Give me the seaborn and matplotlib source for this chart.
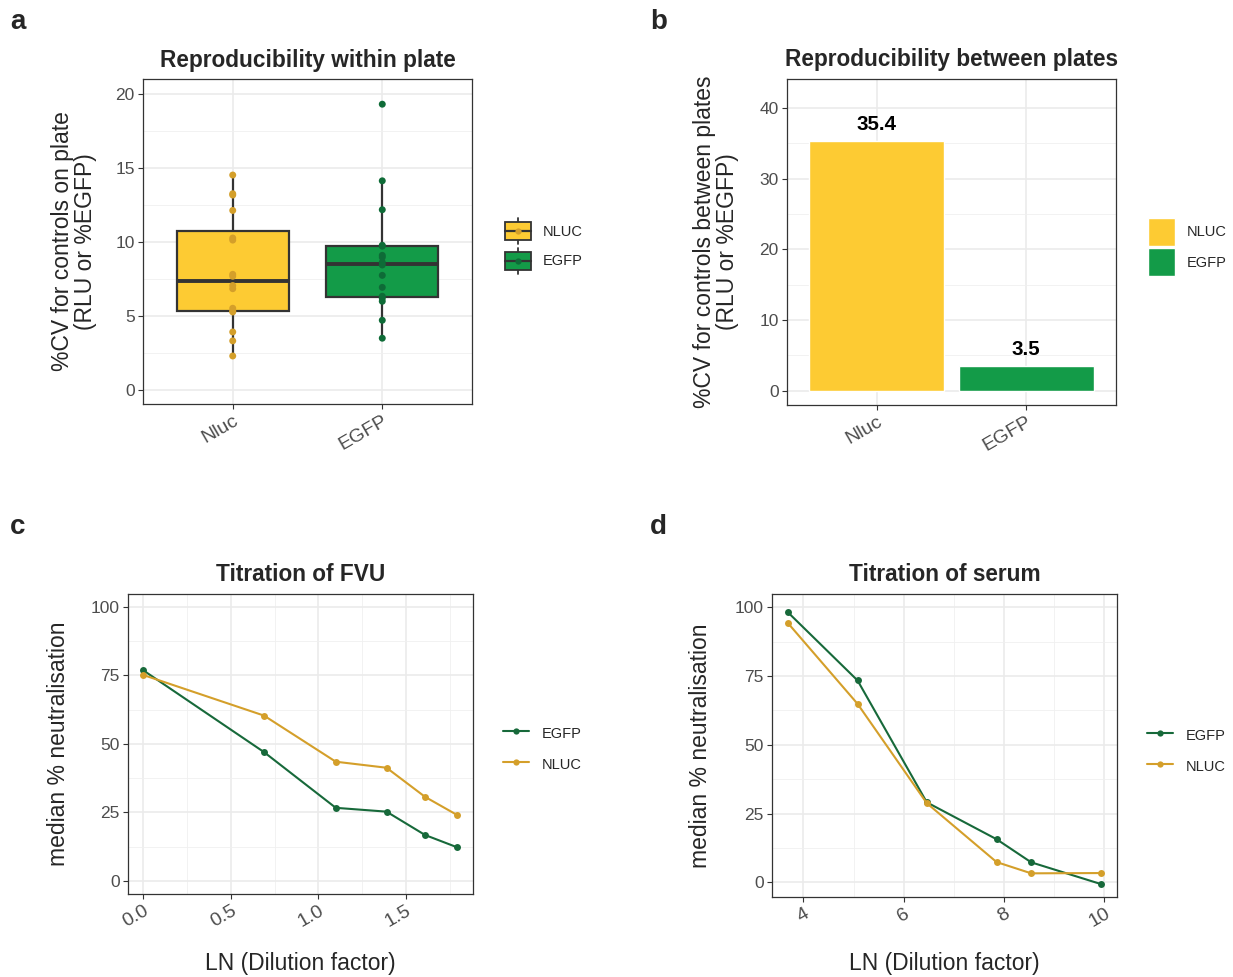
import numpy as np
import pandas as pd
import matplotlib
matplotlib.use("Agg")
import matplotlib.pyplot as plt
from matplotlib.patches import Patch, Rectangle
from matplotlib.lines import Line2D
from matplotlib.legend_handler import HandlerBase
from matplotlib.ticker import MultipleLocator
import seaborn as sns

# ---- data ----
constructs = ["Nluc", "EGFP"]
nluc_cv_within = [14.52, 13.26, 13.17, 12.13, 10.27, 10.13, 7.82, 7.69, 7.06, 6.85,
                  5.53, 5.35, 5.28, 3.93, 3.33, 2.31]
egfp_cv_within = [19.30, 14.13, 12.18, 9.78, 9.72, 9.10, 8.97, 8.63, 8.45, 7.75,
                  6.94, 6.34, 6.20, 6.00, 4.72, 3.51]
cv_between = [35.4, 3.5]

fvu_ln_dilution = [0.0, 0.69, 1.10, 1.39, 1.61, 1.79]
fvu_egfp = [76.8, 47.0, 26.7, 25.3, 16.8, 12.4]
fvu_nluc = [75.1, 60.3, 43.5, 41.3, 30.7, 24.2]

serum_ln_dilution = [3.69, 5.08, 6.46, 7.85, 8.54, 9.93]
serum_egfp = [98.2, 73.4, 29.1, 15.7, 7.3, -0.6]
serum_nluc = [94.3, 64.9, 28.8, 7.4, 3.3, 3.4]

# colours
box_fill = {"Nluc": "#FDCB33", "EGFP": "#139B48"}
point_col = {"Nluc": "#D49F2A", "EGFP": "#0E6B37"}
line_col = {"EGFP": "#17693A", "NLUC": "#D49F2A"}

sns.set_theme(style="white")
plt.rcParams["font.family"] = ["Liberation Sans", "DejaVu Sans"]

df_a = pd.DataFrame({
    "construct": ["Nluc"] * len(nluc_cv_within) + ["EGFP"] * len(egfp_cv_within),
    "cv": nluc_cv_within + egfp_cv_within,
})
df_b = pd.DataFrame({"construct": constructs, "cv": cv_between})
df_c = pd.DataFrame({
    "x": fvu_ln_dilution * 2,
    "y": fvu_egfp + fvu_nluc,
    "construct": ["EGFP"] * 6 + ["NLUC"] * 6,
})
df_d = pd.DataFrame({
    "x": serum_ln_dilution * 2,
    "y": serum_egfp + serum_nluc,
    "construct": ["EGFP"] * 6 + ["NLUC"] * 6,
})

W, H = 1233, 977
fig = plt.figure(figsize=(W / 100, H / 100), dpi=100)


def px_axes(left, top, right, bottom):
    return fig.add_axes([left / W, 1 - bottom / H, (right - left) / W, (bottom - top) / H])


ax_a = px_axes(143, 79, 472, 404)
ax_b = px_axes(787, 79, 1116, 405)
ax_c = px_axes(128, 594, 473, 894)
ax_d = px_axes(772, 594, 1117, 897)

TICK_COL = "#4D4D4D"
TITLE_SIZE = 16.3
LEG_SIZE = 10.5


def style(ax):
    ax.set_facecolor("white")
    for s in ax.spines.values():
        s.set_visible(True)
        s.set_color("#333333")
        s.set_linewidth(0.9)
    ax.grid(which="major", color="#EBEBEB", lw=1.2)
    ax.grid(which="minor", color="#F0F0F0", lw=0.6)
    ax.set_axisbelow(True)
    ax.tick_params(which="major", length=3.5, width=0.8, color="#333333",
                   labelcolor=TICK_COL, labelsize=12.5, pad=2.5, left=True, bottom=True)
    ax.tick_params(axis="x", labelsize=14)
    ax.tick_params(which="minor", length=0)


def rotate_x(ax):
    plt.setp(ax.get_xticklabels(), rotation=30, ha="right", rotation_mode="anchor")


# ---- a: boxplot ----
sns.boxplot(data=df_a, x="construct", y="cv", hue="construct", order=constructs,
            palette=box_fill, width=0.75, linewidth=1.6, linecolor="#333333",
            showfliers=False, showcaps=False, saturation=1, legend=False,
            medianprops={"linewidth": 2.8}, ax=ax_a)
sns.stripplot(data=df_a, x="construct", y="cv", hue="construct", order=constructs,
              palette=point_col, jitter=False, size=5, linewidth=0, legend=False,
              zorder=4, ax=ax_a)
style(ax_a)
ax_a.set_xlim(-0.6, 1.6)
ax_a.set_ylim(-0.93, 21.0)
ax_a.yaxis.set_major_locator(MultipleLocator(5))
ax_a.yaxis.set_minor_locator(MultipleLocator(2.5))
ax_a.set_xlabel("")
ax_a.set_ylabel("%CV for controls on plate\n(RLU or %EGFP)", fontsize=16.5, linespacing=1.0)
ax_a.yaxis.set_label_coords(-0.14, 0.5)
ax_a.set_title("Reproducibility within plate", fontsize=TITLE_SIZE, weight="bold", pad=9)
rotate_x(ax_a)


class BoxKey(HandlerBase):
    def create_artists(self, legend, orig_handle, xd, yd, w, h, fs, trans):
        x0, y0 = -xd, -yd
        cx, cy = x0 + w / 2, y0 + h / 2
        whisk = Line2D([cx, cx], [y0, y0 + h], color="#333333", lw=1.3)
        rect = Rectangle((x0, y0 + 0.17 * h), w, 0.66 * h,
                         facecolor=orig_handle.get_facecolor(), edgecolor="#333333", lw=1.3)
        med = Line2D([x0, x0 + w], [cy, cy], color="#333333", lw=1.6)
        dot = Line2D([cx], [cy], marker="o", ms=4.5, mew=0,
                     color=orig_handle.point_color, linestyle="none")
        arts = [whisk, rect, med, dot]
        for a in arts:
            a.set_transform(trans)
        return arts


box_handles = []
for c in constructs:
    p = Patch(facecolor=box_fill[c])
    p.point_color = point_col[c]
    box_handles.append(p)
ax_a.legend(box_handles, ["NLUC", "EGFP"], handler_map={Patch: BoxKey()},
            loc="upper left", bbox_to_anchor=(505 / W, 1 - 218 / H),
            bbox_transform=fig.transFigure, frameon=False, fontsize=LEG_SIZE,
            handlelength=1.75, handleheight=2.37, labelspacing=0.27,
            handletextpad=0.85, borderpad=0, borderaxespad=0)

# ---- b: bars ----
sns.barplot(data=df_b, x="construct", y="cv", hue="construct", order=constructs,
            palette=box_fill, width=0.9, saturation=1, legend=False, ax=ax_b)
for cont in ax_b.containers:
    ax_b.bar_label(cont, fmt="%.1f", padding=5, fontsize=14.8, weight="bold", color="black")
style(ax_b)
ax_b.set_xlim(-0.6, 1.6)
ax_b.set_ylim(-2.0, 44.1)
ax_b.yaxis.set_major_locator(MultipleLocator(10))
ax_b.yaxis.set_minor_locator(MultipleLocator(5))
ax_b.set_xlabel("")
ax_b.set_ylabel("%CV for controls between plates\n(RLU or %EGFP)", fontsize=16.5, linespacing=1.0)
ax_b.yaxis.set_label_coords(-0.147, 0.5)
ax_b.set_title("Reproducibility between plates", fontsize=TITLE_SIZE, weight="bold", pad=9)
rotate_x(ax_b)
bar_handles = [Patch(facecolor=box_fill[c]) for c in constructs]
ax_b.legend(bar_handles, ["NLUC", "EGFP"], loc="upper left",
            bbox_to_anchor=(1148 / W, 1 - 218 / H), bbox_transform=fig.transFigure,
            frameon=False, fontsize=LEG_SIZE, handlelength=1.85, handleheight=2.58,
            labelspacing=0.14, handletextpad=0.8, borderpad=0, borderaxespad=0)


# ---- c, d: lines ----
def line_panel(ax, df, title, xlim, ylim, xmaj, xmin, xfmt, ylab_x, xlab_y):
    sns.lineplot(data=df, x="x", y="y", hue="construct", hue_order=["EGFP", "NLUC"],
                 palette=line_col, marker="o", markersize=5, markeredgewidth=0,
                 linewidth=1.5, legend=False, ax=ax)
    style(ax)
    ax.set_xlim(*xlim)
    ax.set_ylim(*ylim)
    ax.xaxis.set_major_locator(MultipleLocator(xmaj))
    ax.xaxis.set_minor_locator(MultipleLocator(xmin))
    ax.yaxis.set_major_locator(MultipleLocator(25))
    ax.yaxis.set_minor_locator(MultipleLocator(12.5))
    ax.xaxis.set_major_formatter(xfmt)
    ax.set_xlabel("LN (Dilution factor)", fontsize=16.5)
    ax.xaxis.set_label_coords(0.5, xlab_y)
    ax.set_ylabel("median % neutralisation", fontsize=16.5)
    ax.yaxis.set_label_coords(ylab_x, 0.5)
    ax.set_title(title, fontsize=TITLE_SIZE, weight="bold", pad=9.5)
    rotate_x(ax)
    handles = [Line2D([], [], color=line_col[k], lw=1.5, marker="o", ms=4.5, mew=0)
               for k in ["EGFP", "NLUC"]]
    return handles


h = line_panel(ax_c, df_c, "Titration of FVU", (-0.087, 1.884), (-4.7, 104.6),
               0.5, 0.25, "{x:.1f}", -0.168, -0.193)
ax_c.legend(h, ["EGFP", "NLUC"], loc="upper left", bbox_to_anchor=(503 / W, 1 - 724.5 / H),
            bbox_transform=fig.transFigure, frameon=False, fontsize=LEG_SIZE,
            handlelength=1.8, handleheight=1.4, labelspacing=0.97, handletextpad=0.85,
            borderpad=0, borderaxespad=0)
h = line_panel(ax_d, df_d, "Titration of serum", (3.376, 10.25), (-5.3, 104.8),
               2, 1, "{x:.0f}", -0.174, -0.18)
ax_d.legend(h, ["EGFP", "NLUC"], loc="upper left", bbox_to_anchor=(1147 / W, 1 - 726.5 / H),
            bbox_transform=fig.transFigure, frameon=False, fontsize=LEG_SIZE,
            handlelength=1.8, handleheight=1.4, labelspacing=0.97, handletextpad=0.85,
            borderpad=0, borderaxespad=0)

# panel letters
for letter, x, y in [("a", 10, 29), ("b", 650, 29), ("c", 10, 534), ("d", 650, 534)]:
    fig.text(x / W, 1 - y / H, letter, fontsize=20, weight="bold", va="baseline", ha="left")

fig.savefig("out.png", dpi=100)
